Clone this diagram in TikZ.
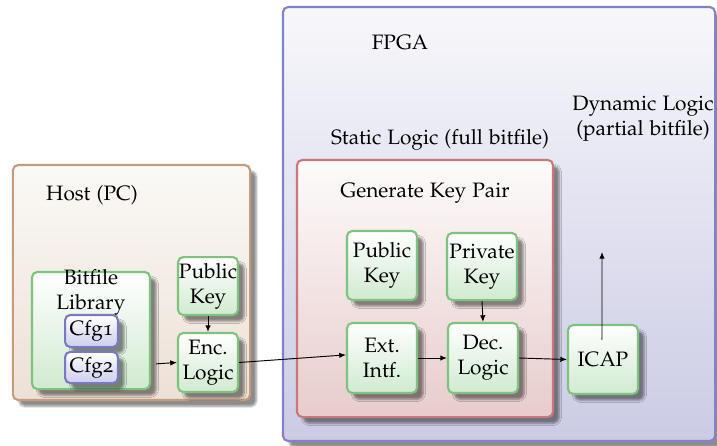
\documentclass[tikz,border=0pt]{standalone}
\usepackage[T1]{fontenc}
\usepackage[osf]{mathpazo}
\usetikzlibrary{arrows.meta,shadows.blur}
\definecolor{gB}{RGB}{125,195,125}
\definecolor{gF}{RGB}{208,234,208}
\definecolor{hB}{RGB}{195,155,125}
\definecolor{hT}{RGB}{251,249,246}
\definecolor{hF}{RGB}{237,224,214}
\definecolor{fB}{RGB}{130,130,200}
\definecolor{fT}{RGB}{247,247,251}
\definecolor{fF}{RGB}{203,203,229}
\definecolor{sB}{RGB}{200,120,120}
\definecolor{sT}{RGB}{253,251,251}
\definecolor{sF}{RGB}{232,204,204}
\definecolor{cB}{RGB}{120,120,195}
\definecolor{cF}{RGB}{205,205,236}
\tikzset{
  shad/.style={blur shadow={shadow xshift=3pt,shadow yshift=-3pt,shadow opacity=45,shadow blur radius=1pt}},
  box/.style={rounded corners=2.5pt,line width=1pt,inner sep=0pt,align=center,shad},
  gbox/.style={box,draw=gB,top color=white,bottom color=gF},
  hbox/.style={box,draw=hB,top color=hT,bottom color=hF},
  fbox/.style={box,draw=fB,top color=fT,bottom color=fF},
  sbox/.style={box,draw=sB,top color=sT,bottom color=sF},
  cbox/.style={box,draw=cB,top color=white,bottom color=cF},
  lbl/.style={inner sep=0pt,align=center},
  arr/.style={-{Latex[length=3.2pt,width=2.6pt]},line width=0.45pt},
}
\begin{document}
\begin{tikzpicture}[x=0.48pt,y=-0.48pt]
\useasboundingbox (0,0) rectangle (717,445);
% containers
\node[fbox,minimum width=207.4pt,minimum height=208.3pt] (fpga) at (499,224) {};
\node[hbox,minimum width=113.8pt,minimum height=112.8pt] (host) at (131.5,282.5) {};
\node[sbox,minimum width=122.9pt,minimum height=123.4pt] (static) at (425,288.5) {};
% labels
\node[lbl] (fpgalbl) at (400,43) {FPGA};
\node[lbl] (statlbl) at (440,140) {Static Logic (full bitfile)};
\node[lbl] (dynlbl) at (643,119) {Dynamic Logic\\(partial bitfile)};
\node[lbl] (genlbl) at (425,193) {Generate Key Pair};
\node[lbl] (hostlbl) at (92,195) {Host (PC)};
% host contents
\node[gbox,minimum width=56.6pt,minimum height=56.2pt] (lib) at (91,330.5) {};
\node[lbl] (liblbl) at (91,292) {Bitfile\\Library};
\node[cbox,minimum width=25.4pt,minimum height=15.4pt] (cfg1) at (91.5,331) {Cfg1};
\node[cbox,minimum width=25.4pt,minimum height=15pt] (cfg2) at (91.5,367.5) {Cfg2};
\node[gbox,minimum width=28.8pt,minimum height=27.8pt] (hpub) at (208,286) {Public\\Key};
\node[gbox,minimum width=28.8pt,minimum height=28.3pt] (enc) at (208,362.5) {Enc.\\Logic};
% fpga contents
\node[gbox,minimum width=33.6pt,minimum height=33.1pt] (fpub) at (382,265.5) {Public\\Key};
\node[gbox,minimum width=33.6pt,minimum height=32.2pt] (priv) at (482,266.5) {Private\\Key};
\node[gbox,minimum width=33.6pt,minimum height=33.6pt] (ext) at (382,358) {Ext.\\Intf.};
\node[gbox,minimum width=33.6pt,minimum height=33.6pt] (dec) at (483,358) {Dec.\\Logic};
\node[gbox,minimum width=33.6pt,minimum height=33.1pt] (icap) at (603,359.5) {ICAP};
\coordinate (dynout) at (602,252);
% connectors
\draw[arr] ([xshift=2.5pt,yshift=-16pt]lib.east) -- (enc.west);
\draw[arr] (hpub.south) -- (enc.north);
\draw[arr] (enc.east) -- ([yshift=1.5pt]ext.west);
\draw[arr] (priv.south) -- (dec.north);
\draw[arr] (ext.east) -- (dec.west);
\draw[arr] (dec.east) -- (icap.west);
\draw[arr] ([xshift=-0.5pt,yshift=9.5pt]icap.center) -- (dynout);
\end{tikzpicture}
\end{document}
